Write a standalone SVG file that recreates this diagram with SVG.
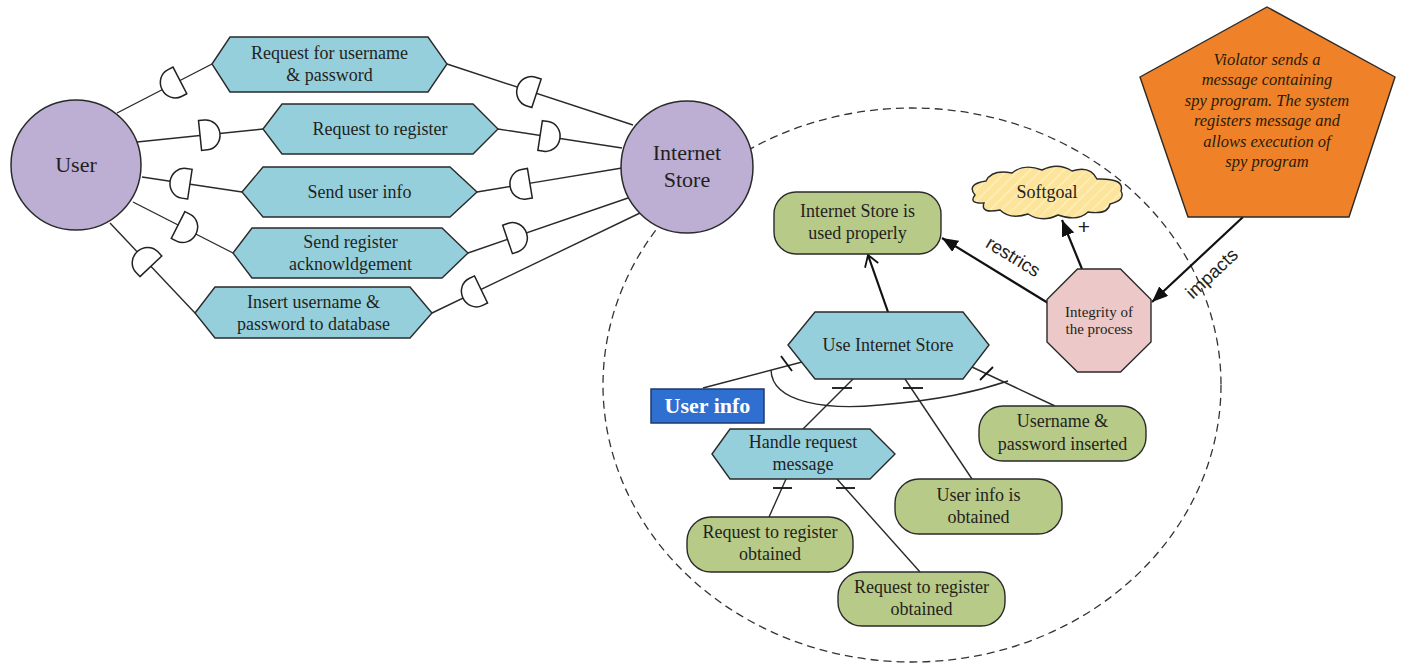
<svg xmlns="http://www.w3.org/2000/svg" xmlns:xlink="http://www.w3.org/1999/xlink" width="1405" height="666" viewBox="0 0 1405 666">
  <style>
    .txt { font-family: "Liberation Serif", "Times New Roman", serif; fill: #231f20; text-anchor: middle; }
    .t18 { font-size: 18px; }
    .t22 { font-size: 22px; }
    .lbl { font-family: "Liberation Sans", Arial, sans-serif; font-size: 18.5px; fill: #231f20; text-anchor: middle; }
    .actor { fill: #bdaed3; stroke: #2a2a2a; stroke-width: 1.5; }
    .task { fill: #96cfdc; stroke: #2a2a2a; stroke-width: 1.4; }
    .goal { fill: #b7ca87; stroke: #2a2a2a; stroke-width: 1.4; }
    .dep { fill: #ffffff; stroke: #222; stroke-width: 1.5; }
    .link { fill: none; stroke: #2a2a2a; stroke-width: 1.4; }
    .bold { fill: none; stroke: #111; stroke-width: 2.2; }
    .tick { stroke: #111; stroke-width: 1.8; }
  </style>
  <defs>
    <!-- dependency half-disc, curved side toward +x -->
    <path id="dep" d="M-10,-15 H-4 A14,15 0 0 1 -4,15 H-10 Z"/>
    <marker id="tri" viewBox="0 0 16 13" refX="16" refY="6.5" markerWidth="16" markerHeight="13" markerUnits="userSpaceOnUse" orient="auto">
      <path d="M0,0 L16,6.5 L0,13 Z" fill="#111"/>
    </marker>
    <marker id="open" viewBox="-13 -9 15 18" refX="0" refY="0" markerWidth="15" markerHeight="18" markerUnits="userSpaceOnUse" orient="auto">
      <path d="M-11,-7 L0,0 L-11,7" fill="none" stroke="#111" stroke-width="1.8"/>
    </marker>
    <pattern id="hatch" width="8" height="8" patternUnits="userSpaceOnUse" patternTransform="rotate(45)">
      <rect width="8" height="8" fill="#fde49b"/>
      <line x1="0" y1="0" x2="0" y2="8" stroke="#fff0c4" stroke-width="2.5"/>
    </pattern>
  </defs>

  <!-- boundary of the Internet Store actor -->
  <ellipse id="boundary" cx="912" cy="385" rx="309" ry="277" fill="none" stroke="#333" stroke-width="1.3" stroke-dasharray="8 5"/>

  <!-- connectors -->
  <g id="connectors">
    <!-- User to tasks -->
    <line class="link" x1="117" y1="113" x2="212" y2="64"/>
    <line class="link" x1="137" y1="142" x2="263" y2="129"/>
    <line class="link" x1="142" y1="177" x2="242" y2="192"/>
    <line class="link" x1="133" y1="202" x2="233" y2="253"/>
    <line class="link" x1="110" y1="223" x2="195" y2="313"/>
    <!-- tasks to Internet Store -->
    <line class="link" x1="447" y1="64" x2="633" y2="125"/>
    <line class="link" x1="498" y1="129" x2="622" y2="148"/>
    <line class="link" x1="477" y1="192" x2="622" y2="168"/>
    <line class="link" x1="468" y1="253" x2="628" y2="198"/>
    <line class="link" x1="432" y1="313" x2="640" y2="213"/>
    <!-- dependency marks -->
    <use href="#dep" class="dep" transform="translate(171,85) rotate(152.7)"/>
    <use href="#dep" class="dep" transform="translate(210,134.5) rotate(-5.9)"/>
    <use href="#dep" class="dep" transform="translate(180,182.7) rotate(188.5)"/>
    <use href="#dep" class="dep" transform="translate(187,229.5) rotate(27)"/>
    <use href="#dep" class="dep" transform="translate(144,259) rotate(-133.4)"/>
    <use href="#dep" class="dep" transform="translate(527,90.2) rotate(198.2)"/>
    <use href="#dep" class="dep" transform="translate(550,137) rotate(8.7)"/>
    <use href="#dep" class="dep" transform="translate(520,184.9) rotate(170.6)"/>
    <use href="#dep" class="dep" transform="translate(517,236.2) rotate(-19)"/>
    <use href="#dep" class="dep" transform="translate(472,293.8) rotate(154.3)"/>

    <!-- decomposition of Use Internet Store -->
    <line class="link" x1="802" y1="362" x2="703" y2="388"/>
    <line class="link" x1="853" y1="379" x2="803" y2="429"/>
    <line class="link" x1="905" y1="379" x2="972" y2="479"/>
    <line class="link" x1="972" y1="367" x2="1055" y2="406"/>
    <path class="link" d="M771,370 C772,404 830,410 880,405 C940,400 975,392 1008,381"/>
    <line class="tick" x1="781" y1="356" x2="792" y2="371"/>
    <line class="tick" x1="832" y1="388" x2="852" y2="388"/>
    <line class="tick" x1="903" y1="388" x2="923" y2="388"/>
    <line class="tick" x1="980" y1="380" x2="993" y2="367"/>

    <!-- decomposition of Handle request message -->
    <line class="link" x1="786" y1="479" x2="769" y2="517"/>
    <line class="link" x1="837" y1="479" x2="920" y2="572"/>
    <line class="tick" x1="773" y1="488" x2="792" y2="488"/>
    <line class="tick" x1="836" y1="488" x2="855" y2="488"/>

    <!-- means-end and contribution arrows -->
    <line class="bold" x1="888" y1="312" x2="868" y2="255" marker-end="url(#open)"/>
    <line class="bold" x1="1048" y1="303" x2="942" y2="238" marker-end="url(#tri)"/>
    <line class="bold" x1="1082" y1="269" x2="1062" y2="220" marker-end="url(#tri)"/>
    <line class="bold" x1="1243" y1="217" x2="1152" y2="302" marker-end="url(#tri)"/>

    <text class="lbl" transform="translate(1010,262) rotate(31.5)">restrics</text>
    <text class="lbl" x="1084" y="234" style="font-size:21px">+</text>
    <text class="lbl" transform="translate(1216,278) rotate(-43)">impacts</text>
  </g>

  <!-- actors -->
  <g id="user">
    <circle class="actor" cx="76" cy="165" r="65"/>
    <text class="txt t22" x="76" y="172">User</text>
  </g>
  <g id="internet-store">
    <circle class="actor" cx="687" cy="167" r="66"/>
    <text class="txt t22" x="687" y="160">Internet</text>
    <text class="txt t22" x="687" y="187">Store</text>
  </g>

  <!-- dependum tasks -->
  <g id="task-request-credentials">
    <polygon class="task" points="212,64 230,37 428,37 447,64 428,92 230,92"/>
    <text class="txt t18" x="329.5" y="59">Request for username</text>
    <text class="txt t18" x="329.5" y="81">&amp; password</text>
  </g>
  <g id="task-request-register">
    <polygon class="task" points="263,129 282,104 473,104 498,129 473,154 282,154"/>
    <text class="txt t18" x="380" y="135">Request to register</text>
  </g>
  <g id="task-send-user-info">
    <polygon class="task" points="242,192 263,167 450,167 477,192 450,217 263,217"/>
    <text class="txt t18" x="359.5" y="198">Send user info</text>
  </g>
  <g id="task-send-ack">
    <polygon class="task" points="233,253 252,228 442,228 468,253 442,278 252,278"/>
    <text class="txt t18" x="350.5" y="248">Send register</text>
    <text class="txt t18" x="350.5" y="270">acknowldgement</text>
  </g>
  <g id="task-insert-credentials">
    <polygon class="task" points="195,313 215,287 410,287 432,313 410,338 215,338"/>
    <text class="txt t18" x="313.5" y="308">Insert username &amp;</text>
    <text class="txt t18" x="313.5" y="330">password to database</text>
  </g>

  <!-- inside the Internet Store boundary -->
  <g id="goal-used-properly">
    <rect class="goal" x="774" y="192" width="167" height="62" rx="22"/>
    <text class="txt t18" x="857.5" y="217">Internet Store is</text>
    <text class="txt t18" x="857.5" y="239">used properly</text>
  </g>
  <g id="task-use-store">
    <polygon class="task" points="788,345 815,312 963,312 989,345 963,379 815,379"/>
    <text class="txt t18" x="888" y="351">Use Internet Store</text>
  </g>
  <g id="resource-user-info">
    <rect x="651" y="389" width="113" height="34" fill="#2f6fcf" stroke="#1c3a70" stroke-width="1.5"/>
    <text class="txt" x="707.5" y="413" style="font-size:22px;font-weight:bold;fill:#ffffff">User info</text>
  </g>
  <g id="task-handle-request">
    <polygon class="task" points="712,454 730,429 870,429 895,454 870,479 730,479"/>
    <text class="txt t18" x="803" y="448">Handle request</text>
    <text class="txt t18" x="803" y="470">message</text>
  </g>
  <g id="goal-credentials-inserted">
    <rect class="goal" x="979" y="406" width="167" height="55" rx="24"/>
    <text class="txt t18" x="1062.5" y="427">Username &amp;</text>
    <text class="txt t18" x="1062.5" y="450">password inserted</text>
  </g>
  <g id="goal-user-info-obtained">
    <rect class="goal" x="895" y="479" width="167" height="55" rx="24"/>
    <text class="txt t18" x="978.5" y="501">User info is</text>
    <text class="txt t18" x="978.5" y="523">obtained</text>
  </g>
  <g id="goal-register-obtained-1">
    <rect class="goal" x="687" y="517" width="166" height="55" rx="24"/>
    <text class="txt t18" x="770" y="538">Request to register</text>
    <text class="txt t18" x="770" y="560">obtained</text>
  </g>
  <g id="goal-register-obtained-2">
    <rect class="goal" x="838" y="572" width="167" height="54" rx="24"/>
    <text class="txt t18" x="921.5" y="593">Request to register</text>
    <text class="txt t18" x="921.5" y="615">obtained</text>
  </g>
  <g id="softgoal">
    <path d="M975,195 Q966,184 986,181 Q992,169 1012,173 Q1024,163 1042,170 Q1058,162 1072,171 Q1090,165 1097,179 Q1125,178 1121,191 Q1126,200 1110,204 Q1108,215 1088,212 Q1078,222 1058,215 Q1042,223 1028,214 Q1010,220 1000,210 Q980,214 984,203 Q968,204 975,195 Z" fill="url(#hatch)" stroke="#2a2a2a" stroke-width="1.4"/>
    <text class="txt t18" x="1047" y="198">Softgoal</text>
  </g>
  <g id="integrity">
    <polygon points="1077.5,269 1120.5,269 1151,299.5 1151,342 1120.5,372 1077.5,372 1047,342 1047,299.5" fill="#ecc9c8" stroke="#2a2a2a" stroke-width="1.4"/>
    <text class="txt" x="1099" y="317" style="font-size:15px">Integrity of</text>
    <text class="txt" x="1099" y="334" style="font-size:15px">the process</text>
  </g>

  <!-- threat -->
  <g id="threat">
    <polygon points="1267,7 1395,77 1349,217 1188,217 1140,77" fill="#ef8228" stroke="#2a2a2a" stroke-width="1.4"/>
    <g class="txt" style="font-size:16.5px;font-style:italic;fill:#2b1a0a">
      <text x="1267" y="65">Violator sends a</text>
      <text x="1267" y="85">message containing</text>
      <text x="1267" y="106">spy program. The system</text>
      <text x="1267" y="126">registers message and</text>
      <text x="1267" y="147">allows execution of</text>
      <text x="1267" y="167">spy program</text>
    </g>
  </g>
</svg>
